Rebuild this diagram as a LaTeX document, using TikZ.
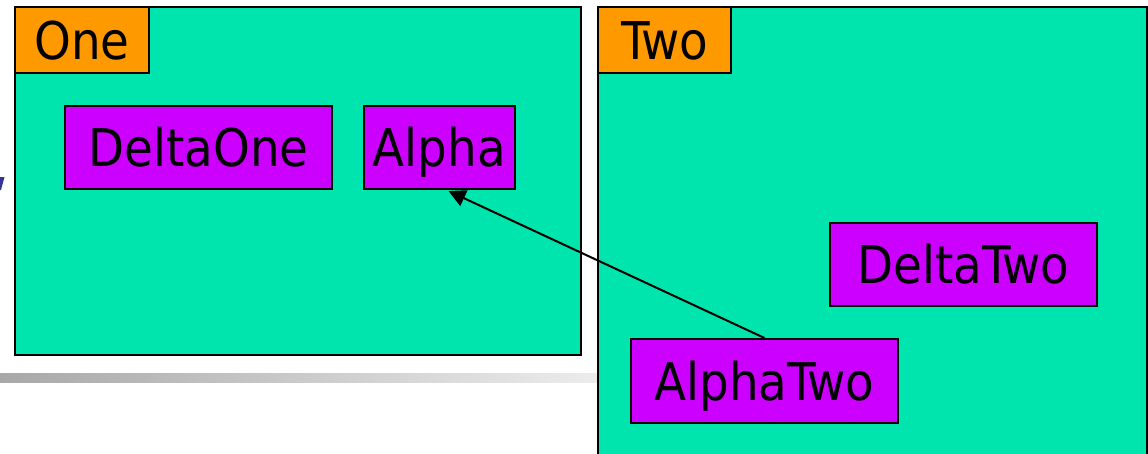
\documentclass[tikz,border=0pt]{standalone}
\usepackage{fontspec}
\setmainfont{DejaVu Sans Condensed}
\usetikzlibrary{arrows.meta}
\definecolor{teal1}{RGB}{0,229,173}
\definecolor{purp}{RGB}{204,0,255}
\definecolor{orng}{RGB}{255,153,0}
\definecolor{navy1}{RGB}{51,51,153}
\pgfdeclarelayer{back}
\pgfdeclarelayer{mid}
\pgfsetlayers{back,mid,main}
\begin{document}
\begin{tikzpicture}[x=1pt,y=-1pt,
  bigbox/.style={draw=black, line width=2pt, fill=teal1, inner sep=0pt},
  labelbox/.style={draw=black, line width=2pt, fill=orng, inner sep=0pt,
    text height=38pt, text depth=0pt, font=\fontsize{52}{52}\selectfont},
  classbox/.style={draw=black, line width=2pt, fill=purp, inner sep=0pt,
    text height=38pt, text depth=0pt, font=\fontsize{52}{52}\selectfont},
  link/.style={line width=2pt, -{Triangle[length=17pt,width=17pt]}}]
\useasboundingbox (0,0) rectangle (1148,453);
\begin{pgfonlayer}{back}
  \shade[left color={rgb,255:red,168;green,168;blue,168}, right color={rgb,255:red,236;green,236;blue,236}]
    (0,373) rectangle (598,382);
  \node[bigbox, minimum width=566pt, minimum height=348pt] (one) at (298,181) {};
  \node[bigbox, minimum width=549pt, minimum height=480pt] (two) at (872.5,247) {};
\end{pgfonlayer}
\fill[navy1] (0,177) -- (4.5,177) -- (1,190) -- (0,190) -- cycle;
\node[labelbox, minimum width=134pt, minimum height=66pt] (onelabel) at (82,40) {One};
\node[labelbox, minimum width=133pt, minimum height=66pt] (twolabel) at (664.5,40) {Two};
\node[classbox, minimum width=267pt, minimum height=83pt] (deltaone) at (198.5,147.5) {DeltaOne};
\node[classbox, minimum width=151pt, minimum height=83pt] (alpha) at (439.5,147.5) {Alpha};
\node[classbox, minimum width=267pt, minimum height=83pt] (deltatwo) at (963.5,264.5) {DeltaTwo};
\node[classbox, minimum width=267pt, minimum height=84pt] (alphatwo) at (764.5,381) {AlphaTwo};
\begin{pgfonlayer}{mid}
  \draw[link] (alphatwo.north) -- ([xshift=9pt,yshift=-1pt]alpha.south);
\end{pgfonlayer}
\end{tikzpicture}
\end{document}
